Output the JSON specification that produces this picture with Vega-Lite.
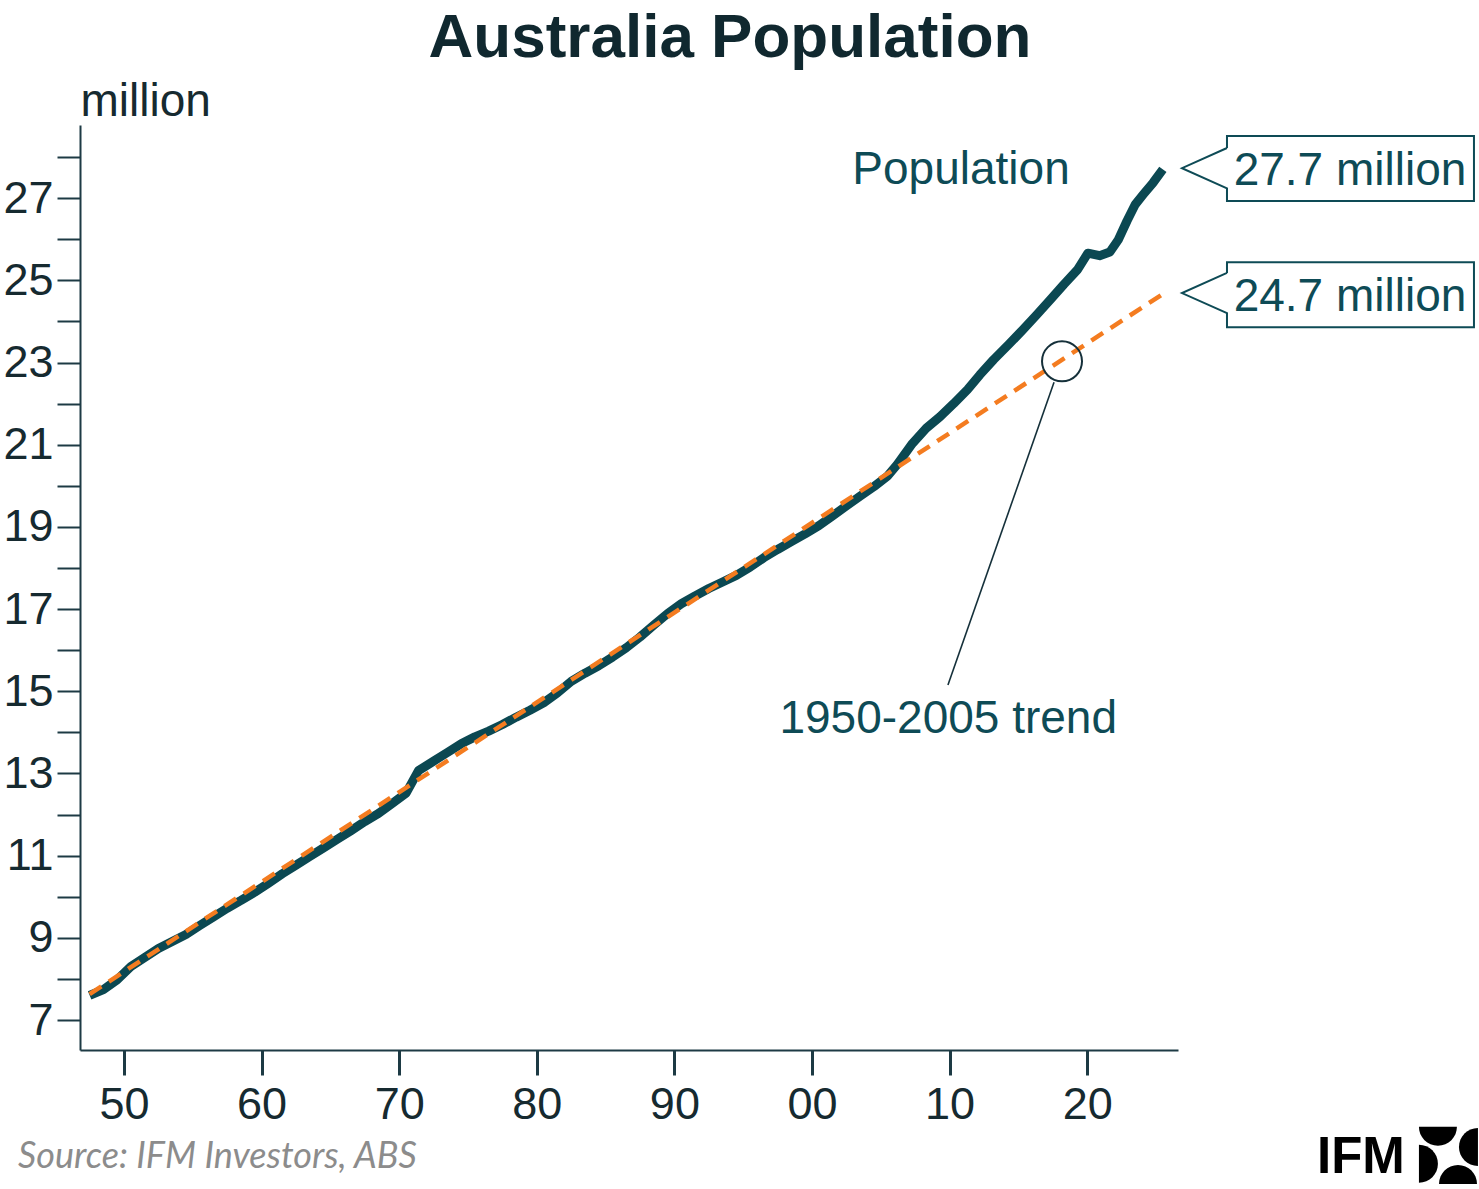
{
  "$schema": "https://vega.github.io/schema/vega-lite/v6.json",
  "width": 1098,
  "height": 925,
  "autosize": {"type": "none"},
  "padding": {"left": 80, "top": 125, "right": 301, "bottom": 139},
  "background": "white",
  "title": {
    "text": "Australia Population",
    "font": "Liberation Sans",
    "fontSize": 62,
    "fontWeight": "bold",
    "color": "#10282f",
    "anchor": "middle",
    "frame": "group",
    "dx": 101,
    "dy": 63,
    "baseline": "alphabetic",
    "offset": 22
  },
  "config": {
    "view": {"stroke": null},
    "font": "Liberation Sans"
  },
  "datasets": {
    "population": [
      {"t": 1947.5, "v": 7.6}, {"t": 1948.5, "v": 7.74}, {"t": 1949.5, "v": 7.98},
      {"t": 1950.5, "v": 8.3}, {"t": 1951.5, "v": 8.52}, {"t": 1952.5, "v": 8.74},
      {"t": 1953.5, "v": 8.91}, {"t": 1954.5, "v": 9.08}, {"t": 1955.5, "v": 9.3},
      {"t": 1956.5, "v": 9.51}, {"t": 1957.5, "v": 9.72}, {"t": 1958.5, "v": 9.91},
      {"t": 1959.5, "v": 10.11}, {"t": 1960.5, "v": 10.33}, {"t": 1961.5, "v": 10.56},
      {"t": 1962.5, "v": 10.77}, {"t": 1963.5, "v": 10.98}, {"t": 1964.5, "v": 11.19},
      {"t": 1965.5, "v": 11.4}, {"t": 1966.5, "v": 11.61}, {"t": 1967.5, "v": 11.83},
      {"t": 1968.5, "v": 12.03}, {"t": 1969.5, "v": 12.27}, {"t": 1970.5, "v": 12.52},
      {"t": 1971.4, "v": 13.07}, {"t": 1972.5, "v": 13.3}, {"t": 1973.5, "v": 13.51},
      {"t": 1974.5, "v": 13.72}, {"t": 1975.5, "v": 13.89}, {"t": 1976.5, "v": 14.03},
      {"t": 1977.5, "v": 14.19}, {"t": 1978.5, "v": 14.37}, {"t": 1979.5, "v": 14.54},
      {"t": 1980.5, "v": 14.72}, {"t": 1981.5, "v": 14.96}, {"t": 1982.5, "v": 15.24},
      {"t": 1983.5, "v": 15.44}, {"t": 1984.5, "v": 15.62}, {"t": 1985.5, "v": 15.83},
      {"t": 1986.5, "v": 16.06}, {"t": 1987.5, "v": 16.32}, {"t": 1988.5, "v": 16.61},
      {"t": 1989.5, "v": 16.89}, {"t": 1990.5, "v": 17.13}, {"t": 1991.5, "v": 17.32},
      {"t": 1992.5, "v": 17.5}, {"t": 1993.5, "v": 17.66}, {"t": 1994.5, "v": 17.82},
      {"t": 1995.5, "v": 18.02}, {"t": 1996.5, "v": 18.25}, {"t": 1997.5, "v": 18.45},
      {"t": 1998.5, "v": 18.64}, {"t": 1999.5, "v": 18.83}, {"t": 2000.5, "v": 19.03},
      {"t": 2001.5, "v": 19.27}, {"t": 2002.5, "v": 19.51}, {"t": 2003.5, "v": 19.75},
      {"t": 2004.5, "v": 19.98}, {"t": 2005.5, "v": 20.24}, {"t": 2006.2, "v": 20.52},
      {"t": 2007.3, "v": 21.03}, {"t": 2008.3, "v": 21.4}, {"t": 2009.3, "v": 21.68},
      {"t": 2010.3, "v": 22.0}, {"t": 2011.3, "v": 22.34}, {"t": 2012.2, "v": 22.7},
      {"t": 2013.2, "v": 23.07}, {"t": 2014.3, "v": 23.44}, {"t": 2015.3, "v": 23.79},
      {"t": 2016.3, "v": 24.15}, {"t": 2017.3, "v": 24.52}, {"t": 2018.3, "v": 24.9},
      {"t": 2019.3, "v": 25.26}, {"t": 2020.05, "v": 25.66}, {"t": 2020.9, "v": 25.6},
      {"t": 2021.65, "v": 25.69}, {"t": 2022.25, "v": 25.98}, {"t": 2022.9, "v": 26.45},
      {"t": 2023.5, "v": 26.85}, {"t": 2024.1, "v": 27.1}, {"t": 2024.8, "v": 27.38},
      {"t": 2025.5, "v": 27.7}
    ],
    "trend": [
      {"t": 1947.5, "v": 7.63},
      {"t": 2025.6, "v": 24.69}
    ],
    "callouts": [
      {"box": "pop", "i": 0, "t": 2030.16, "v": 28.22},
      {"box": "pop", "i": 1, "t": 2030.16, "v": 28.51},
      {"box": "pop", "i": 2, "t": 2048.11, "v": 28.51},
      {"box": "pop", "i": 3, "t": 2048.11, "v": 26.93},
      {"box": "pop", "i": 4, "t": 2030.16, "v": 26.93},
      {"box": "pop", "i": 5, "t": 2030.16, "v": 27.24},
      {"box": "pop", "i": 6, "t": 2026.89, "v": 27.73},
      {"box": "pop", "i": 7, "t": 2030.16, "v": 28.22},
      {"box": "trend", "i": 0, "t": 2030.16, "v": 25.18},
      {"box": "trend", "i": 1, "t": 2030.16, "v": 25.44},
      {"box": "trend", "i": 2, "t": 2048.11, "v": 25.44},
      {"box": "trend", "i": 3, "t": 2048.11, "v": 23.86},
      {"box": "trend", "i": 4, "t": 2030.16, "v": 23.86},
      {"box": "trend", "i": 5, "t": 2030.16, "v": 24.2},
      {"box": "trend", "i": 6, "t": 2026.89, "v": 24.69},
      {"box": "trend", "i": 7, "t": 2030.16, "v": 25.18}
    ],
    "leader": [
      {"t": 2017.59, "v": 22.52},
      {"t": 2009.88, "v": 15.15}
    ],
    "marker": [
      {"t": 2018.17, "v": 23.03}
    ],
    "labels": [
      {"t": 2010.83, "v": 27.34, "text": "Population"},
      {"t": 2009.9, "v": 13.98, "text": "1950-2005 trend"},
      {"t": 2039.1, "v": 27.32, "text": "27.7 million"},
      {"t": 2039.1, "v": 24.25, "text": "24.7 million"}
    ],
    "source": [
      {"t": 1942.3, "v": 3.4, "text": "Source: IFM Investors, ABS"}
    ],
    "brand": [
      {"t": 2036.7, "v": 3.28, "text": "IFM"}
    ],
    "emblem": [
      {"side": "top", "t": 2045.49, "v": 4.4},
      {"side": "right", "t": 2048.4, "v": 3.91},
      {"side": "left", "t": 2044.11, "v": 3.5},
      {"side": "bottom", "t": 2046.95, "v": 3.01}
    ]
  },
  "encoding": {
    "x": {
      "field": "t",
      "type": "quantitative",
      "scale": {"domain": [1946.8, 2026.6], "nice": false, "zero": false},
      "axis": {
        "title": null,
        "values": [1950, 1960, 1970, 1980, 1990, 2000, 2010, 2020],
        "labelExpr": "slice('0' + (datum.value % 100), -2)",
        "grid": false,
        "domainColor": "#1d3a44",
        "domainWidth": 2,
        "tickColor": "#1d3a44",
        "tickWidth": 3,
        "tickSize": 25,
        "labelFont": "Liberation Sans",
        "labelFontSize": 45,
        "labelColor": "#162a30",
        "labelPadding": 7,
        "labelFlush": false,
        "labelOverlap": false
      }
    },
    "y": {
      "field": "v",
      "type": "quantitative",
      "scale": {"domain": [6.27, 28.78], "nice": false, "zero": false},
      "axis": {
        "title": "million",
        "titleAngle": 0,
        "titleX": 0,
        "titleY": -10,
        "titleAlign": "left",
        "titleBaseline": "alphabetic",
        "titleFont": "Liberation Sans",
        "titleFontSize": 46,
        "titleFontWeight": "normal",
        "titleColor": "#162a30",
        "values": [7, 8, 9, 10, 11, 12, 13, 14, 15, 16, 17, 18, 19, 20, 21, 22, 23, 24, 25, 26, 27, 28],
        "labelExpr": "datum.value % 2 == 1 ? datum.label : ''",
        "grid": false,
        "domainColor": "#1d3a44",
        "domainWidth": 2,
        "tickColor": "#1d3a44",
        "tickWidth": 2,
        "tickSize": 23,
        "labelFont": "Liberation Sans",
        "labelFontSize": 45,
        "labelColor": "#162a30",
        "labelPadding": 4,
        "labelFlush": false,
        "labelOverlap": false
      }
    }
  },
  "layer": [
    {
      "data": {"name": "population"},
      "mark": {"type": "line", "color": "#0b4852", "strokeWidth": 9, "strokeJoin": "round", "clip": false}
    },
    {
      "data": {"name": "trend"},
      "mark": {"type": "line", "color": "#f47c20", "strokeWidth": 4.5, "strokeDash": [14, 9], "clip": false}
    },
    {
      "data": {"name": "leader"},
      "mark": {"type": "line", "color": "#15303a", "strokeWidth": 1.6, "clip": false}
    },
    {
      "data": {"name": "marker"},
      "mark": {"type": "point", "shape": "circle", "size": 1600, "filled": false, "stroke": "#15303a", "strokeWidth": 2, "opacity": 1, "clip": false}
    },
    {
      "data": {"name": "callouts"},
      "mark": {"type": "line", "color": "#0e4b56", "strokeWidth": 2, "strokeJoin": "miter", "clip": false},
      "encoding": {
        "detail": {"field": "box", "type": "nominal"},
        "order": {"field": "i", "type": "quantitative"}
      }
    },
    {
      "data": {"name": "labels"},
      "mark": {"type": "text", "font": "Liberation Sans", "fontSize": 46, "color": "#0e4b56", "align": "center", "baseline": "alphabetic", "clip": false},
      "encoding": {"text": {"field": "text"}}
    },
    {
      "data": {"name": "source"},
      "mark": {"type": "text", "font": "Lato", "fontSize": 36, "fontStyle": "italic", "color": "#8c8c8c", "align": "left", "baseline": "alphabetic", "clip": false},
      "encoding": {"text": {"field": "text"}}
    },
    {
      "data": {"name": "brand"},
      "mark": {"type": "text", "font": "Liberation Sans", "fontSize": 51, "fontWeight": "bold", "color": "#000000", "align": "left", "baseline": "alphabetic", "clip": false},
      "encoding": {"text": {"field": "text"}}
    },
    {
      "data": {"name": "emblem"},
      "mark": {"type": "point", "filled": true, "color": "#000000", "opacity": 1, "size": 1444, "clip": false},
      "encoding": {
        "shape": {
          "field": "side",
          "type": "nominal",
          "legend": null,
          "scale": {
            "domain": ["top", "right", "left", "bottom"],
            "range": [
              "M-1,0A1,1,0,0,0,1,0Z",
              "M0,-1A1,1,0,0,0,0,1Z",
              "M0,-1A1,1,0,0,1,0,1Z",
              "M-1,0A1,1,0,0,1,1,0Z"
            ]
          }
        }
      }
    }
  ]
}
